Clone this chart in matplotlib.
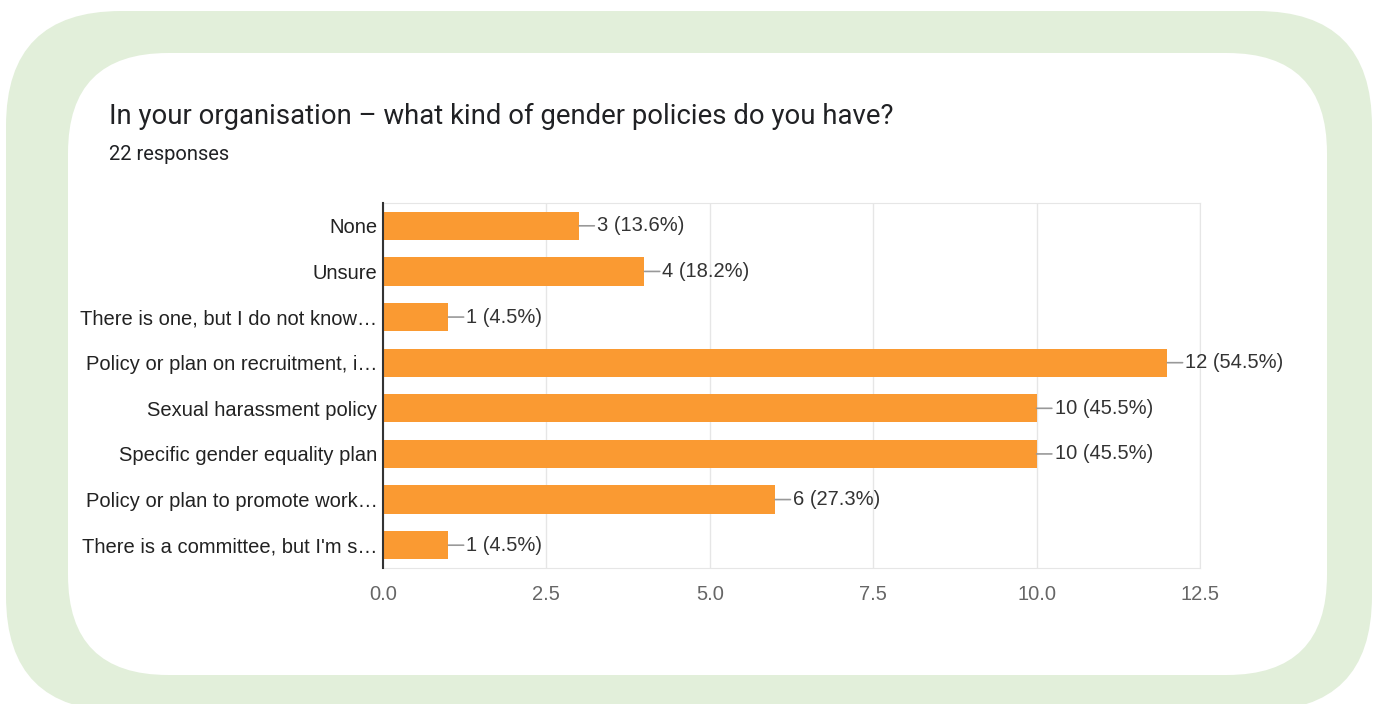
import matplotlib.pyplot as plt
from matplotlib.patches import FancyBboxPatch

plt.rcParams['font.family'] = ['Liberation Sans', 'DejaVu Sans']

categories = ['None', 'Unsure', 'There is one, but I do not know\u2026',
              'Policy or plan on recruitment, i\u2026', 'Sexual harassment policy',
              'Specific gender equality plan', 'Policy or plan to promote work\u2026',
              "There is a committee, but I'm s\u2026"]
counts = [3, 4, 1, 12, 10, 10, 6, 1]
total = 22
xticks = [0.0, 2.5, 5.0, 7.5, 10.0, 12.5]

fig = plt.figure(figsize=(13.75, 7.04), dpi=100)

# background frame in pixel units
bg = fig.add_axes([0, 0, 1, 1], zorder=0)
bg.set_xlim(0, 1375)
bg.set_ylim(704, 0)
bg.axis('off')
bg.add_patch(FancyBboxPatch((6, 11), 1366, 700, boxstyle='round,pad=0,rounding_size=115',
                            fc='#e2efda', ec='none'))
bg.add_patch(FancyBboxPatch((68, 53), 1259, 622, boxstyle='round,pad=0,rounding_size=100',
                            fc='white', ec='none'))
bg.text(109, 116, 'In your organisation \u2013 what kind of gender policies do you have?',
        fontsize=19.8, color='#202124', va='center', ha='left', family='Roboto')
bg.text(109, 154, '%d responses' % total, fontsize=14.5, color='#202124', va='center',
        ha='left', family='Roboto')

ax = fig.add_axes([383 / 1375, 136 / 704, 817 / 1375, 365 / 704], zorder=1)
ax.patch.set_alpha(0)
y = range(len(categories))
ax.barh(y, counts, height=0.62, color='#fa9a32', zorder=2)
ax.set_ylim(len(categories) - 0.5, -0.5)
ax.set_xlim(0, 12.5)
ax.set_xticks(xticks)
ax.set_xticklabels(['%.1f' % t for t in xticks])
ax.set_yticks(list(y))
ax.set_yticklabels(categories)
ax.tick_params(axis='x', length=0, pad=12, labelsize=14.5, labelcolor='#666666')
ax.tick_params(axis='y', length=0, pad=4, labelsize=14.5, labelcolor='#222222')
ax.grid(axis='x', color='#e6e6e6', lw=1, zorder=0)
for s in ['top', 'right', 'bottom']:
    ax.spines[s].set_color('#e6e6e6')
ax.spines['left'].set_color('#333333')
ax.spines['left'].set_linewidth(1.5)
ax.spines['left'].set_zorder(3)

for i, c in enumerate(counts):
    ax.annotate('%d (%.1f%%)' % (c, c / total * 100), xy=(c, i), xytext=(13, 0),
                textcoords='offset points', ha='left', va='center', fontsize=14.5,
                color='#333333',
                arrowprops=dict(arrowstyle='-', color='#999999', lw=1.2,
                                shrinkA=0, shrinkB=0))

fig.savefig('out.png', dpi=100)
